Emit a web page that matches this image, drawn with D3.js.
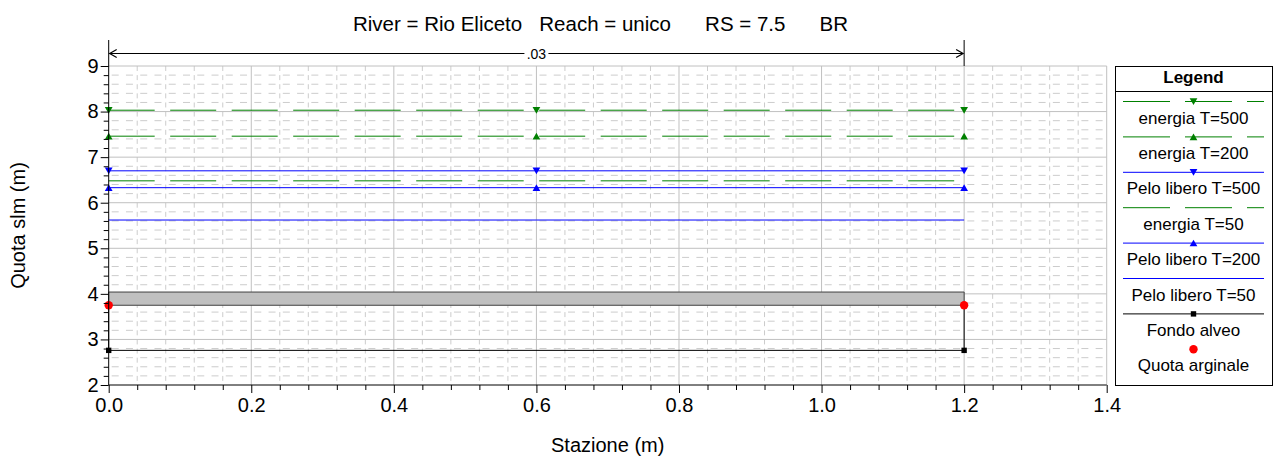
<!DOCTYPE html>
<html>
<head>
<meta charset="utf-8">
<script src="https://cdn.jsdelivr.net/npm/d3@7"></script>
<style>
  body { margin: 0; background: #fff; }
  svg { display: block; font-family: "Liberation Sans", Arial, sans-serif; }
</style>
</head>
<body>
<svg></svg>
<script>
// chart values
const titleText = "River = Rio Eliceto   Reach = unico      RS = 7.5      BR";
const xTicks = [0, 0.2, 0.4, 0.6, 0.8, 1.0, 1.2, 1.4];
const yTicks = [2, 3, 4, 5, 6, 7, 8, 9];

const wsStations = [0, 0.6, 1.2];
const energiaT500 = [8.03, 8.03, 8.03];
const energiaT200 = [7.46, 7.46, 7.46];
const peloT500 = [6.70, 6.70, 6.70];
const energiaT50 = [6.48, 6.48, 6.48];
const peloT200 = [6.33, 6.33, 6.33];
const peloT50 = [5.62, 5.62, 5.62];

const groundStations = [0, 0, 1.2, 1.2];
const groundElev = [3.75, 2.76, 2.76, 3.75];
const bankStations = [0, 1.2];
const bankElev = [3.75, 3.75];
const deckStations = [0, 1.2];
const deckLow = [3.75, 3.75];
const deckHigh = [4.04, 4.04];

const dimLabel = ".03";
const dimRange = [0, 1.2];

const legendNames = ["energia T=500", "energia T=200", "Pelo libero T=500", "energia T=50",
  "Pelo libero T=200", "Pelo libero T=50", "Fondo alveo", "Quota arginale"];

const width = 1276, height = 460;
const svg = d3.select("svg").attr("width", width).attr("height", height);

const x = d3.scaleLinear().domain([0, 1.4]).range([108.7, 1106.7]);
const y = d3.scaleLinear().domain([2, 9]).range([385, 66]);

const green = "#008000", blue = "#0000ff";

// minor / major grid
const grid = svg.append("g");
const xMinor = d3.range(0, 36).map(i => i * 0.04).filter((v, i) => i % 5 !== 0);
const yMinor = d3.range(0, 36).map(i => 2 + i * 0.2).filter((v, i) => i % 5 !== 0);
const rowStep = y(2) - y(2.2);

grid.selectAll(".hmin").data(yMinor).enter().append("line")
  .attr("x1", x(0)).attr("x2", x(1.4))
  .attr("y1", d => y(d)).attr("y2", d => y(d))
  .attr("stroke", "#cccccc").attr("stroke-dasharray", "7,7.26")
  .attr("stroke-dashoffset", -3);
grid.selectAll(".vmin").data(xMinor).enter().append("line")
  .attr("x1", d => x(d)).attr("x2", d => x(d))
  .attr("y1", y(9)).attr("y2", y(2))
  .attr("stroke", "#cccccc").attr("stroke-dasharray", `5,${rowStep - 5}`);
grid.selectAll(".hmaj").data(yTicks.slice(1)).enter().append("line")
  .attr("x1", x(0)).attr("x2", x(1.4))
  .attr("y1", d => y(d)).attr("y2", d => y(d))
  .attr("stroke", "#c0c0c0");
grid.selectAll(".vmaj").data(xTicks.slice(1)).enter().append("line")
  .attr("x1", d => x(d)).attr("x2", d => x(d))
  .attr("y1", y(2)).attr("y2", y(9))
  .attr("stroke", "#c0c0c0");

// bridge deck
svg.append("path")
  .datum(deckStations.map((s, i) => ({ s, lo: deckLow[i], hi: deckHigh[i] })))
  .attr("d", d3.area().x(d => x(d.s)).y0(d => y(d.lo)).y1(d => y(d.hi)))
  .attr("fill", "#c0c0c0").attr("stroke", "#404040").attr("stroke-width", 1);

const line = d3.line().x(d => x(d[0])).y(d => y(d[1]));

function drawSeries(st, el, color, dash) {
  svg.append("path")
    .datum(st.map((s, i) => [s, el[i]]))
    .attr("d", line)
    .attr("fill", "none").attr("stroke", color).attr("stroke-width", 1)
    .attr("stroke-dasharray", dash || null);
}

const tri = d3.symbol().type(d3.symbolTriangle).size(26);

function marker(g, cx, cy, color, kind) {
  if (kind === "down" || kind === "up") {
    g.append("path").attr("d", tri())
      .attr("transform", `translate(${cx},${cy + (kind === "down" ? -1 : 1)}) rotate(${kind === "down" ? 180 : 0})`)
      .attr("fill", color);
  } else if (kind === "square") {
    g.append("rect").attr("x", cx - 2.7).attr("y", cy - 2.7)
      .attr("width", 5.4).attr("height", 5.4).attr("fill", color);
  } else if (kind === "circle") {
    g.append("circle").attr("cx", cx).attr("cy", cy).attr("r", 4.2).attr("fill", color);
  }
}

function drawMarkers(st, el, color, kind) {
  const g = svg.append("g");
  st.forEach((s, i) => marker(g, x(s), y(el[i]), color, kind));
}

drawSeries(wsStations, peloT50, blue);
drawSeries(wsStations, peloT200, blue);
drawSeries(wsStations, energiaT50, green, "46,15.5");
drawSeries(wsStations, peloT500, blue);
drawSeries(wsStations, energiaT200, green, "46,15.5");
drawSeries(wsStations, energiaT500, green, "46,15.5");
drawSeries(groundStations, groundElev, "#000");

drawMarkers(wsStations, energiaT500, green, "down");
drawMarkers(wsStations, energiaT200, green, "up");
drawMarkers(wsStations, peloT500, blue, "down");
drawMarkers(wsStations, peloT200, blue, "up");
drawMarkers(groundStations, groundElev, "#000", "square");
drawMarkers(bankStations, bankElev, "#ff0000", "circle");

// axes
const xAxis = svg.append("g").attr("transform", `translate(0,${y(2)})`)
  .call(d3.axisBottom(x).tickValues(xTicks).tickFormat(d3.format(".1f")).tickSize(8).tickPadding(5));
svg.append("g").attr("transform", `translate(0,${y(2)})`)
  .call(d3.axisBottom(x).tickValues(xMinor).tickFormat("").tickSize(5))
  .select(".domain").remove();
const yAxis = svg.append("g").attr("transform", `translate(${x(0)},0)`)
  .call(d3.axisLeft(y).tickValues(yTicks).tickFormat(d3.format("d")).tickSize(8).tickPadding(2));
svg.append("g").attr("transform", `translate(${x(0)},0)`)
  .call(d3.axisLeft(y).tickValues(yMinor).tickFormat("").tickSize(5))
  .select(".domain").remove();

[xAxis, yAxis].forEach(a => {
  a.select(".domain").attr("stroke", "#000");
  a.selectAll("text").attr("font-size", 20).attr("fill", "#000")
    .attr("font-family", "Liberation Sans, Arial, sans-serif");
});
xAxis.select(".domain").attr("d", `M${x(0)},0H${x(1.4)}`);
yAxis.select(".domain").attr("d", `M0,${y(2)}V40`);

// dimension annotation
const dimY = 53.5;
svg.append("line").attr("x1", x(dimRange[1])).attr("x2", x(dimRange[1]))
  .attr("y1", 40).attr("y2", y(9)).attr("stroke", "#000");
svg.append("line").attr("x1", x(dimRange[0]) + 1).attr("x2", x(dimRange[1]) - 1)
  .attr("y1", dimY).attr("y2", dimY).attr("stroke", "#000");
[[dimRange[0], 1], [dimRange[1], -1]].forEach(([s, dir]) => {
  const px = x(s) + dir * 1;
  svg.append("path")
    .attr("d", `M${px + dir * 7},${dimY - 4}L${px},${dimY}L${px + dir * 7},${dimY + 4}`)
    .attr("fill", "none").attr("stroke", "#000").attr("stroke-width", 1.2);
});
const dimMid = x((dimRange[0] + dimRange[1]) / 2);
svg.append("rect").attr("x", dimMid - 12).attr("y", dimY - 8).attr("width", 24).attr("height", 16).attr("fill", "#fff");
svg.append("text").attr("x", dimMid).attr("y", dimY + 5).attr("text-anchor", "middle")
  .attr("font-size", 14).text(dimLabel);

// title and axis labels
svg.append("text").attr("x", 353).attr("y", 31).attr("font-size", 20.5)
  .style("white-space", "pre").text(titleText);
svg.append("text").attr("x", (x(0) + x(1.4)) / 2).attr("y", 452).attr("text-anchor", "middle")
  .attr("font-size", 20).text("Stazione (m)");
svg.append("text").attr("transform", `translate(25,${(y(2) + y(9)) / 2}) rotate(-90)`)
  .attr("text-anchor", "middle").attr("font-size", 20).text("Quota slm (m)");

// legend
const lg = svg.append("g");
const lx0 = 1115, lx1 = 1272, ly0 = 66, ly1 = 385;
lg.append("rect").attr("x", lx0 + 0.5).attr("y", ly0 + 0.5).attr("width", lx1 - lx0).attr("height", ly1 - ly0)
  .attr("fill", "#fff").attr("stroke", "#000");
lg.append("text").attr("x", (lx0 + lx1) / 2).attr("y", 83).attr("text-anchor", "middle")
  .attr("font-size", 17).attr("font-weight", "bold").text("Legend");
lg.append("line").attr("x1", lx0).attr("x2", lx1 + 1).attr("y1", 91.5).attr("y2", 91.5).attr("stroke", "#000");

const legendStyle = [
  { color: green, dash: "47,15", mk: "down" },
  { color: green, dash: "47,15", mk: "up" },
  { color: blue, dash: null, mk: "down" },
  { color: green, dash: "47,15", mk: null },
  { color: blue, dash: null, mk: "up" },
  { color: blue, dash: null, mk: null },
  { color: "#000", dash: null, mk: "square" },
  { color: "#ff0000", dash: null, mk: "circle", noLine: true }
];
const lcx = 1193.5;
legendNames.forEach((name, i) => {
  const st = legendStyle[i];
  const ly = 101.5 + i * 35.4;
  if (!st.noLine) {
    lg.append("line").attr("x1", 1123).attr("x2", 1264).attr("y1", ly).attr("y2", ly)
      .attr("stroke", st.color).attr("stroke-dasharray", st.dash);
  }
  if (st.mk) marker(lg, lcx, ly, st.color, st.mk);
  lg.append("text").attr("x", lcx).attr("y", ly + 22).attr("text-anchor", "middle")
    .attr("font-size", 17).text(name);
});
</script>
</body>
</html>
